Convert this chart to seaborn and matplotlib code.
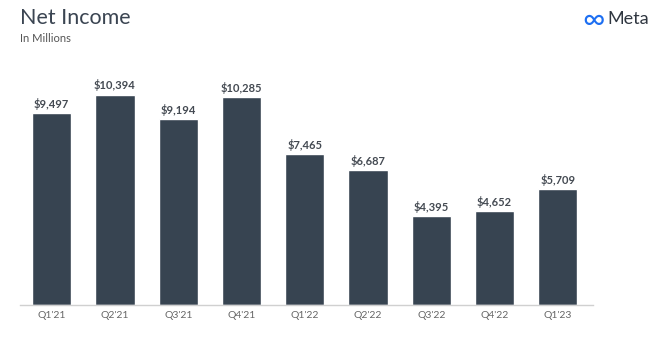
import pandas as pd
import matplotlib.pyplot as plt
import seaborn as sns

quarters = ["Q1'21", "Q2'21", "Q3'21", "Q4'21", "Q1'22", "Q2'22", "Q3'22", "Q4'22", "Q1'23"]
net_income = [9497, 10394, 9194, 10285, 7465, 6687, 4395, 4652, 5709]

df = pd.DataFrame({"quarter": quarters, "income": net_income})

sns.set_style("white")
plt.rcParams['font.family'] = ['Lato', 'DejaVu Sans']

fig = plt.figure(figsize=(6.6, 3.61), dpi=100)
ax = fig.add_axes([0.0303, 0.155, 0.8677, 0.634])

sns.barplot(data=df, x="quarter", y="income", color="#374451", saturation=1,
            width=0.62, ax=ax)

for i, v in enumerate(net_income):
    ax.text(i, v + 150, f"${v:,}", ha="center", va="bottom",
            fontsize=8, fontweight="bold", color="#444a52")

ax.set_xlim(-0.5, 8.55)
ax.set_ylim(0, 11300)
ax.set_yticks([])
ax.set_xlabel("")
ax.set_ylabel("")
for s in ["top", "right", "left"]:
    ax.spines[s].set_visible(False)
ax.spines["bottom"].set_color("#d0d0d0")
ax.spines["bottom"].set_linewidth(1)
ax.tick_params(axis="x", length=0, labelsize=7.5, labelcolor="#666666", pad=4)

fig.text(0.03, 0.95, "Net Income", fontsize=15.5, color="#3b4552", va="center")
fig.text(0.03, 0.893, "In Millions", fontsize=8, color="#555555", va="center")
fig.text(0.899, 0.945, "\u221e", fontsize=22, color="#1d6ff2", va="center", ha="center")
fig.text(0.92, 0.948, "Meta", fontsize=13, color="#2f3640", va="center")

fig.savefig("out.png", dpi=100)
